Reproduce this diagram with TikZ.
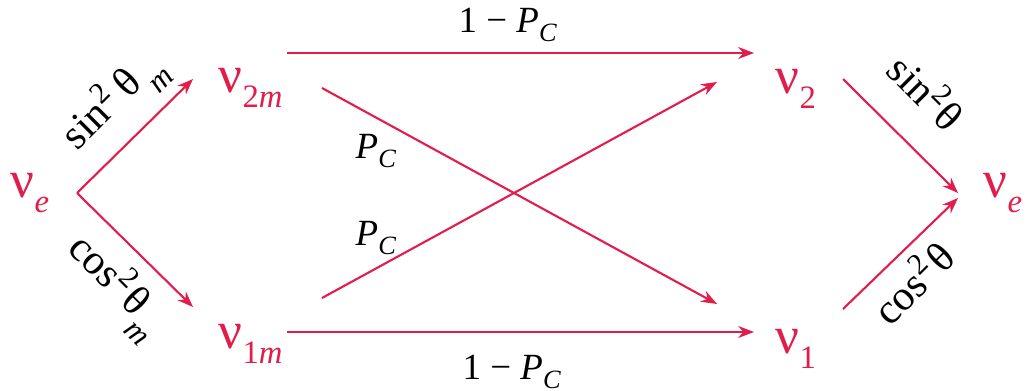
\documentclass[tikz,border=0pt]{standalone}
\usepackage{fontspec}
\setmainfont{Liberation Serif}
\usetikzlibrary{arrows.meta}
\definecolor{nured}{RGB}{225,30,75}
\newcommand\nusym{{\fontsize{15}{15}\selectfont ν}}
\newcommand\nusub[1]{\raisebox{-4.3pt}{\fontsize{9.3}{10}\selectfont #1}}
\newcommand\lsub[1]{\raisebox{-2.6pt}{\fontsize{7.5}{8}\selectfont\itshape #1}}
\newcommand\msub[1]{\raisebox{-5pt}{\fontsize{9}{9}\selectfont\itshape #1}}
\newcommand\lsup[1]{\raisebox{4.5pt}{\fontsize{8.5}{9}\selectfont #1}}
\begin{document}
\begin{tikzpicture}[x=0.01cm,y=-0.01cm,
  nu/.style={text=nured, inner sep=0, anchor=base west},
  lab/.style={inner sep=0, anchor=base west, font=\fontsize{10.5}{12}\selectfont},
  rlab/.style={inner sep=0, anchor=base west, font=\fontsize{12}{13}\selectfont},
  flow/.style={draw=nured, line width=0.6pt, -{Stealth[length=4.5pt,width=3.4pt]}}]
\useasboundingbox (0,0) rectangle (1027,391);
% particle nodes
\node[nu] (ve1) at (10,197) {\nusym\nusub{\itshape e}};
\node[nu] (n2m) at (218,92) {\nusym\nusub{2\textit{m}}};
\node[nu] (n1m) at (218,348) {\nusym\nusub{1\textit{m}}};
\node[nu] (n2) at (775,93) {\nusym\nusub{2}};
\node[nu] (n1) at (775,353) {\nusym\nusub{1}};
\node[nu] (ve2) at (983,197) {\nusym\nusub{\itshape e}};
% connector end points
\coordinate (o1) at (77,193);
\coordinate (t2m) at (193,79);
\coordinate (t1m) at (193,307);
\coordinate (s2m) at (287,53);
\coordinate (t2) at (754,53);
\coordinate (s1m) at (287,332);
\coordinate (t1) at (754,332);
\coordinate (x1s) at (322,88);
\coordinate (x1t) at (717,304);
\coordinate (x2s) at (322,298);
\coordinate (x2t) at (717,82);
\coordinate (r2s) at (843,79);
\coordinate (r1s) at (843,309);
\coordinate (o2a) at (958,193);
\coordinate (o2b) at (958,198);
% connectors
\draw[flow] (o1) -- (t2m);
\draw[flow] (o1) -- (t1m);
\draw[flow] (s2m) -- (t2);
\draw[flow] (s1m) -- (t1);
\draw[flow] (x1s) -- (x1t);
\draw[flow] (x2s) -- (x2t);
\draw[flow] (r2s) -- (o2a);
\draw[flow] (r1s) -- (o2b);
% labels
\node[lab] (lt) at (458,32) {1 − \textit{P}\lsub{C}};
\node[lab] (lb) at (462,379) {1 − \textit{P}\lsub{C}};
\node[lab] (pc1) at (355,158) {\textit{P}\lsub{C}};
\node[lab] (pc2) at (355,245) {\textit{P}\lsub{C}};
\node[rlab, rotate=45] (ls1) at (77,152) {sin\lsup{2}\hspace{2.5pt}θ\hspace{1.5pt}\msub{m}};
\node[rlab, rotate=-45] (lc1) at (66,250) {cos\lsup{2}\hspace{1pt}θ\hspace{0.5pt}\msub{m}};
\node[rlab, rotate=-45] (ls2) at (884,72) {sin\lsup{2}\hspace{0.5pt}θ};
\node[rlab, rotate=45] (lc2) at (890,328) {cos\lsup{2}\hspace{1pt}θ};
\end{tikzpicture}
\end{document}
